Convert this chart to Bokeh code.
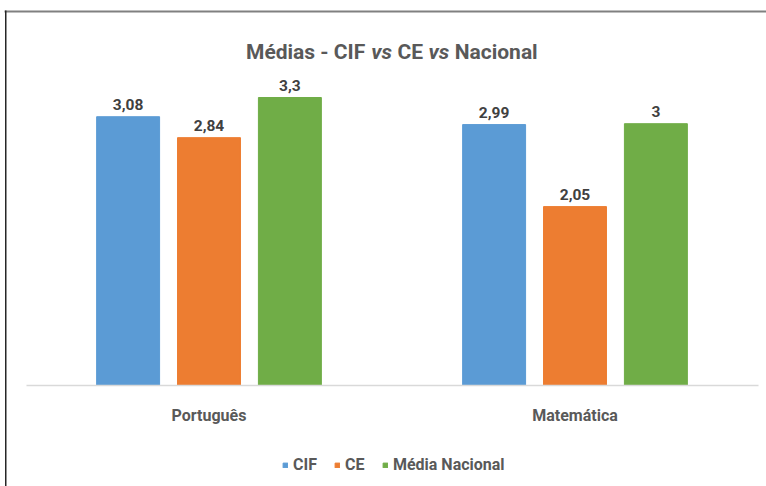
from bokeh.plotting import figure
from bokeh.models import (ColumnDataSource, Range1d, Legend, LegendItem, Label,
                          FixedTicker, BoxAnnotation)
from bokeh.transform import dodge
from bokeh.core.properties import value
from bokeh.embed import file_html
from bokeh.resources import INLINE

categories = ["Português", "Matemática"]
series_names = ["CIF", "CE", "Média Nacional"]
cif = [3.08, 2.99]
ce = [2.84, 2.05]
nacional = [3.3, 3.0]
colors = ["#5B9BD5", "#ED7D31", "#70AD47"]

def fmt(v):
    s = ("%.2f" % v).rstrip("0").rstrip(".")
    return s.replace(".", ",")

FONT = "Roboto"
W, H = 766, 486
AXIS_Y = 385          # page y of the category axis
PPU_Y = 87.27         # pixels per unit on y
PPU_X = 366.0         # pixels per category
LEFT_X = 25.5         # page x where the first category starts

xpos = [i + 0.5 for i in range(len(categories))]
src = ColumnDataSource(dict(
    x=xpos, cif=cif, ce=ce, nac=nacional,
    cif_t=[fmt(v) for v in cif], ce_t=[fmt(v) for v in ce], nac_t=[fmt(v) for v in nacional],
))

p = figure(x_range=Range1d(-LEFT_X / PPU_X, (W - LEFT_X) / PPU_X),
           y_range=Range1d(-(H - AXIS_Y) / PPU_Y, AXIS_Y / PPU_Y),
           width=W, height=H, output_backend="svg", toolbar_location=None,
           min_border_left=0, min_border_right=0, min_border_top=0, min_border_bottom=0)

# chart border (top and left edges)
p.add_layout(BoxAnnotation(left=4, right=W, top=H - 10, bottom=H - 12,
                           left_units="screen", right_units="screen",
                           top_units="screen", bottom_units="screen",
                           fill_color="#808080", fill_alpha=1, line_color=None))
p.add_layout(BoxAnnotation(left=4.5, right=6, top=H - 10, bottom=0,
                           left_units="screen", right_units="screen",
                           top_units="screen", bottom_units="screen",
                           fill_color="#262626", fill_alpha=1, line_color=None))

offs = [-0.221, 0.0, 0.221]
cols = ["cif", "ce", "nac"]
items = []
for name, col, off, c in zip(series_names, cols, offs, colors):
    r = p.vbar(x=dodge("x", off), top=col, width=0.172, source=src,
               fill_color=c, line_color=c)
    p.text(x=dodge("x", off), y=col, text=col + "_t", source=src,
           text_align="center", text_baseline="alphabetic", y_offset=-12,
           text_font=value(FONT), text_font_style="bold", text_font_size="15.5px",
           text_color="#404040")
    items.append(LegendItem(label=name, renderers=[r]))

legend = Legend(items=items, orientation="horizontal", location=(282, 12),
                glyph_width=6, glyph_height=6, label_standoff=5, spacing=17,
                label_text_font=FONT, label_text_font_style="bold",
                label_text_font_size="16px", label_text_color="#595959",
                border_line_color=None, background_fill_alpha=0, padding=0, margin=0)
p.add_layout(legend, "center")

p.yaxis.visible = False
p.xgrid.visible = False
p.ygrid.visible = False
p.outline_line_color = None
ax = p.xaxis[0]
ax.fixed_location = 0
ax.bounds = (0, len(categories))
ax.ticker = FixedTicker(ticks=xpos)
ax.major_label_overrides = {x: c for x, c in zip(xpos, categories)}
ax.axis_line_color = "#d9d9d9"
ax.axis_line_width = 1.5
ax.major_tick_line_color = None
ax.minor_tick_line_color = None
ax.major_label_standoff = 14
ax.major_label_text_font = FONT
ax.major_label_text_font_style = "bold"
ax.major_label_text_font_size = "16px"
ax.major_label_text_color = "#595959"

title_parts = [("Médias - CIF", "bold", 245.5), ("vs", "bold italic", 370.8), ("CE", "bold", 397.1),
               ("vs", "bold italic", 427.9), ("Nacional", "bold", 454.2)]
for txt, style, xp in title_parts:
    p.add_layout(Label(x=xp, y=H - 51, x_units="screen", y_units="screen", text=txt,
                       text_font=FONT, text_font_style=style, text_font_size="21px",
                       text_color="#595959", text_baseline="alphabetic", text_align="left"))

open("out.html", "w").write(file_html(p, INLINE))
